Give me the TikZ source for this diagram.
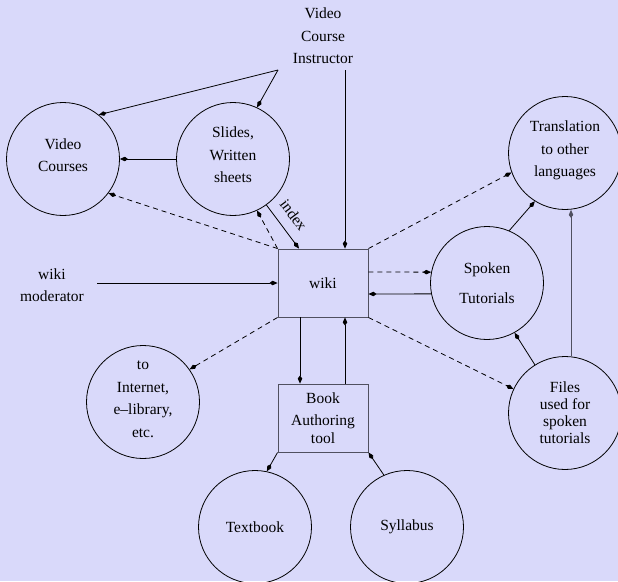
\documentclass[tikz,border=0pt]{standalone}
\usepackage{fontspec}
\setmainfont{Liberation Serif}
\usepackage{xcolor}
\usepackage{tikz}
\usetikzlibrary{arrows.meta}
\definecolor{bgcol}{RGB}{217,217,250}
\definecolor{boxcol}{RGB}{80,80,95}

\begin{document}
\begin{tikzpicture}[x=1pt,y=-1pt,
    every node/.style={font=\fontsize{15.5}{22.5}\selectfont, align=center},
    bubble/.style={draw, circle, minimum size=113pt, inner sep=0pt, line width=0.8pt},
    lifted/.style={text depth=8pt},
    box/.style={draw=boxcol, minimum width=90pt, minimum height=68pt, inner sep=0pt, line width=0.9pt},
    link/.style={line width=0.8pt, -{Kite[length=8pt,width=4.5pt,inset=3pt]}},
    weblink/.style={link, dash pattern=on 5pt off 4pt}]
                \path[use as bounding box, fill=bgcol] (0,0) rectangle (618,581);
                % circles
                \node[bubble, lifted] (vidcourses) at (63,159) {Video\\Courses};
                \node[bubble, lifted] (slides) at (233,159) {Slides,\\Written\\sheets};
                \node[bubble, lifted] (transl) at (565,153) {Translation\\to other\\languages};
                \node[bubble] (spoken) at (487,283) {Spoken\\[7pt]Tutorials};
                \node[bubble, font=\fontsize{15.5}{17}\selectfont] (files) at (565,413) {Files\\used for\\spoken\\tutorials};
                \node[bubble, text depth=6pt] (internet) at (143,402) {to\\Internet,\\e--library,\\etc.};
                \node[bubble] (textbook) at (255,527) {Textbook};
                \node[bubble] (syllabus) at (407,527) {Syllabus};
                % boxes and free texts
                \node[box] (wiki) at (323,283) {wiki};
                \node[box] (book) at (323,418) {Book\\Authoring\\[-5pt]tool};
                \node (instructor) at (323,36) {Video\\Course\\Instructor};
                \node (moderator) at (52,285) {wiki\\moderator};
                \coordinate (apex) at (278,70);
                \coordinate (instrfoot) at (345,70);
                \coordinate (modend) at (97,283);
                % connectors
                \draw[link] (apex) -- (vidcourses.51);
                \draw[link] (apex) -- (slides.65);
                \draw[link] (instrfoot) -- ([xshift=22pt]wiki.north);
                \draw[link] (slides) -- (vidcourses);
                \draw[weblink] (wiki.north west) -- (vidcourses.-37);
                \draw[weblink] (wiki.north west) -- (slides.-65);
                \draw[link] (slides.-54) -- node[sloped, above=10pt, pos=0.45, inner sep=0pt] {index} ([xshift=-24pt]wiki.north);
                \draw[link] (modend) -- (wiki.west);
                \draw[weblink] (wiki.south west) -- (internet.35);
                \draw[link] ([xshift=-23pt]wiki.south) -- ([xshift=-23pt]book.north);
                \draw[link] ([xshift=22pt]book.north) -- ([xshift=22pt]wiki.south);
                \draw[link] (book.south west) -- (textbook.78);
                \draw[link] (syllabus.114) -- (book.south east);
                \draw[weblink] ([yshift=11pt]wiki.east) -- (spoken.169);
                \draw[link] (spoken.191) -- ([yshift=-11pt]wiki.east);
                \draw[weblink] (wiki.south east) -- (files.155);
                \draw[weblink] (wiki.north east) -- (transl.200);
                \draw[link] (spoken.67) -- (transl.238);
                \draw[link] (files.122) -- (spoken.-61);
                \draw[link, draw=boxcol, line width=1pt] ([xshift=6pt]files.north) -- ([xshift=6pt]transl.south);
            \end{tikzpicture}
\end{document}
